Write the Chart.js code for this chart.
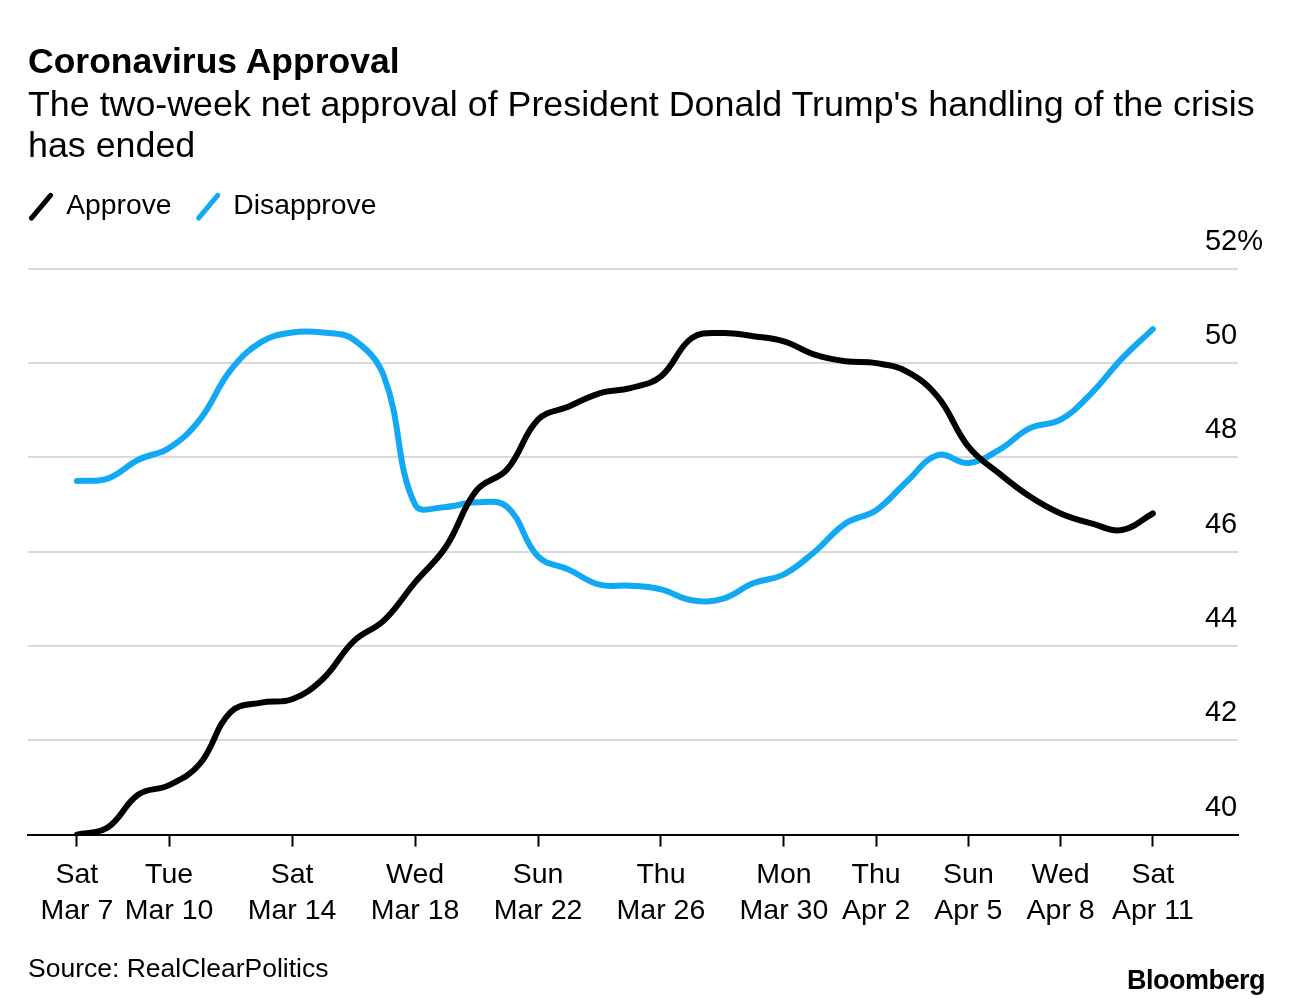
<!DOCTYPE html>
<html>
<head>
<meta charset="utf-8">
<script src="https://cdn.jsdelivr.net/npm/chart.js@4.4.1/dist/chart.umd.min.js"></script>
<style>
  body { margin: 0; background: #fff; font-family: 'Liberation Sans', Arial, sans-serif; color: #000; }
  #wrap { position: relative; width: 1293px; height: 1008px; overflow: hidden; }
  #chart { position: absolute; left: 0; top: 0; }
  .title { position: absolute; left: 28px; top: 44px; font-size: 35.5px; line-height: 1; font-weight: bold; }
  .sub { position: absolute; left: 28px; top: 84px; font-size: 35.8px; line-height: 41px; width: 1250px; }
  .source { position: absolute; left: 28px; top: 955px; font-size: 26.5px; line-height: 1; }
  .logo { position: absolute; right: 28px; top: 967px; font-size: 27px; line-height: 1; font-weight: bold; letter-spacing: -0.5px; }
</style>
</head>
<body>
<div id="wrap">
  <canvas id="chart" width="1293" height="1008"></canvas>
  <div class="title">Coronavirus Approval</div>
  <div class="sub">The two-week net approval of President Donald Trump's handling of the crisis<br>has ended</div>
  <div class="source">Source: RealClearPolitics</div>
  <div class="logo">Bloomberg</div>
</div>
<script>
// one value per day, Sat Mar 7 .. Sat Apr 11
const days = ['Mar 7', 'Mar 8', 'Mar 9', 'Mar 10', 'Mar 11', 'Mar 12', 'Mar 13', 'Mar 14', 'Mar 15',
  'Mar 16', 'Mar 17', 'Mar 18', 'Mar 19', 'Mar 20', 'Mar 21', 'Mar 22', 'Mar 23', 'Mar 24', 'Mar 25',
  'Mar 26', 'Mar 27', 'Mar 28', 'Mar 29', 'Mar 30', 'Mar 31', 'Apr 1', 'Apr 2', 'Apr 3', 'Apr 4',
  'Apr 5', 'Apr 6', 'Apr 7', 'Apr 8', 'Apr 9', 'Apr 10', 'Apr 11'];

const approve = [40.0, 40.15, 40.85, 41.05, 41.5, 42.6, 42.8, 42.87, 43.3, 44.1, 44.55, 45.35,
  46.1, 47.3, 47.75, 48.8, 49.08, 49.36, 49.47, 49.72, 50.53, 50.64, 50.57, 50.46, 50.18,
  50.04, 50.0, 49.82, 49.29, 48.23, 47.66, 47.17, 46.81, 46.6, 46.46, 46.81];

const disapprove = [47.5, 47.55, 47.95, 48.2, 48.8, 49.85, 50.45, 50.65, 50.65, 50.5, 49.7, 47.0,
  46.95, 47.05, 46.95, 45.9, 45.62, 45.3, 45.28, 45.2, 44.97, 45.0, 45.33, 45.52, 46.0,
  46.6, 46.88, 47.49, 48.05, 47.88, 48.16, 48.62, 48.8, 49.36, 50.1, 50.72];

// x axis ticks (index into days)
const tickDays = [0, 3, 7, 11, 15, 19, 23, 26, 29, 32, 35];
const tickWeekdays = ['Sat', 'Tue', 'Sat', 'Wed', 'Sun', 'Thu', 'Mon', 'Thu', 'Sun', 'Wed', 'Sat'];
const tickDates = ['Mar 7', 'Mar 10', 'Mar 14', 'Mar 18', 'Mar 22', 'Mar 26', 'Mar 30', 'Apr 2', 'Apr 5', 'Apr 8', 'Apr 11'];

const yTicks = [40, 42, 44, 46, 48, 50, 52];

const FONT = "'Liberation Sans', Arial, sans-serif";
const BLUE = '#12a9f4';

// extra room between legend and plot
const legendGap = {
  id: 'legendGap',
  beforeLayout(chart) {
    const lg = chart.legend;
    if (!lg || lg._gapDone) return;
    const fit = lg.fit;
    lg.fit = function () {
      fit.call(this);
      this.height += 38;
    };
    lg._gapDone = true;
  }
};

const ctx = document.getElementById('chart').getContext('2d');

new Chart(ctx, {
  type: 'line',
  data: {
    datasets: [
      {
        label: 'Approve',
        data: days.map((d, i) => ({ x: i, y: approve[i] })),
        borderColor: '#000',
        borderWidth: 6,
        borderCapStyle: 'round',
        pointRadius: 0,
        tension: 0.4
      },
      {
        label: 'Disapprove',
        data: days.map((d, i) => ({ x: i, y: disapprove[i] })),
        borderColor: BLUE,
        borderWidth: 6,
        borderCapStyle: 'round',
        pointRadius: 0,
        tension: 0.4
      }
    ]
  },
  options: {
    responsive: false,
    animation: false,
    layout: { padding: { left: 28, right: 28, top: 190.5, bottom: 69 } },
    plugins: {
      tooltip: { enabled: false },
      legend: {
        position: 'top',
        align: 'start',
        labels: {
          usePointStyle: true,
          boxWidth: 22,
          boxHeight: 21,
          padding: 2,
          color: '#000',
          font: { family: FONT, size: 28.3 },
          generateLabels(chart) {
            return chart.data.datasets.map((ds, i) => ({
              text: ds.label + '   ',
              fillStyle: ds.borderColor,
              strokeStyle: ds.borderColor,
              lineWidth: 5,
              lineCap: 'round',
              pointStyle: 'line',
              rotation: -50,
              hidden: false,
              datasetIndex: i,
              fontColor: '#000'
            }));
          }
        }
      }
    },
    scales: {
      x: {
        type: 'linear',
        min: -1.59,
        max: 37.77,
        afterBuildTicks(scale) {
          scale.ticks = tickDays.map(v => ({ value: v }));
        },
        ticks: {
          autoSkip: false,
          maxRotation: 0,
          padding: 10,
          color: '#000',
          font: { family: FONT, size: 28.5, lineHeight: 1.27 },
          callback(v) {
            const k = tickDays.indexOf(v);
            return k < 0 ? '' : [tickWeekdays[k], tickDates[k]];
          }
        },
        grid: { drawOnChartArea: false, drawTicks: true, tickLength: 12, tickColor: '#000', tickWidth: 2 },
        border: { display: true, color: '#000', width: 2 }
      },
      y: {
        position: 'right',
        min: 40,
        max: 52,
        afterBuildTicks(scale) {
          scale.ticks = yTicks.map(v => ({ value: v }));
        },
        afterFit(scale) {
          scale.width = 27;
        },
        ticks: {
          mirror: true,
          crossAlign: 'far',
          padding: 25,
          labelOffset: -27,
          color: '#000',
          font: { family: FONT, size: 29 },
          callback: v => (v === 52 ? '52%' : String(v))
        },
        grid: { color: '#d9d9d9', lineWidth: 2, drawTicks: false },
        border: { display: false }
      }
    }
  },
  plugins: [legendGap]
});
</script>
</body>
</html>
